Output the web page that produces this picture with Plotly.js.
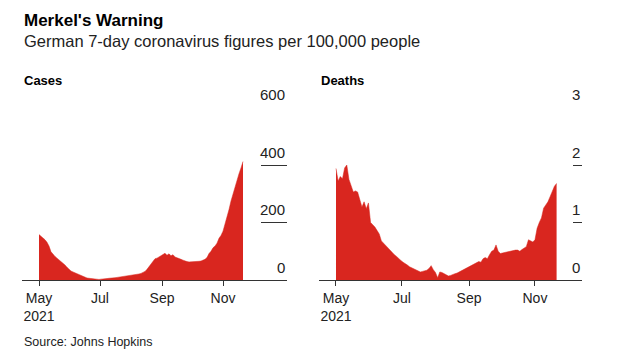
<!DOCTYPE html>
<html>
<head>
<meta charset="utf-8">
<script src="https://cdn.plot.ly/plotly-3.0.1.min.js"></script>
<style>html,body{margin:0;padding:0;background:#fff;}#chart{width:632px;height:353px;}</style>
</head>
<body>
<div id="chart"></div>
<script>
// ---- data (one value every 2 days, starting 2021-05-01) ----
const startDate = "2021-05-01";
const stepDays = 2;
const cases = [158,152,147,140,131,118,98,88,82,76,70,64,60,52,44,36,31,28,25,22,
  18,16,13,10,7,6,5,4,3,3,2,3,3,4,5,6,6,7,8,9,
  10,11,11,13,14,15,16,17,18,19,21,23,26,30,37,46,56,66,74,76,
  80,85,88,93,86,91,84,88,80,78,75,72,69,66,64,63,63,64,64,65,
  65,66,68,72,78,92,100,112,118,128,145,155,170,195,212,245,275,300,325,350,
  370,390,412];
const deaths = [1.94,1.72,1.80,1.76,1.95,2.00,1.75,1.62,1.53,1.55,1.53,1.40,1.27,1.36,1.24,1.34,1.00,0.96,0.92,0.86,
  0.80,0.68,0.64,0.60,0.55,0.52,0.48,0.44,0.41,0.37,0.34,0.31,0.29,0.26,0.23,0.21,0.19,0.17,0.16,0.14,
  0.15,0.16,0.17,0.20,0.25,0.18,0.13,0.04,0.14,0.13,0.11,0.08,0.07,0.08,0.10,0.11,0.12,0.14,0.16,0.18,
  0.20,0.22,0.24,0.26,0.27,0.30,0.32,0.31,0.37,0.39,0.37,0.44,0.50,0.52,0.61,0.50,0.46,0.47,0.48,0.49,
  0.50,0.50,0.51,0.52,0.52,0.50,0.53,0.56,0.58,0.70,0.68,0.66,0.70,0.90,1.00,1.08,1.25,1.30,1.36,1.45,
  1.56,1.63,1.68];
const xTickVals = ["2021-05-01","2021-07-01","2021-09-01","2021-11-01"];
const xTickText = ["May<br>2021","Jul","Sep","Nov"];
const casesTicks = [0,200,400,600];
const casesTickText = ["0","200","400","600"];
const deathsTicks = [0,1,2,3];
const deathsTickText = ["0","1","2","3"];

// ---- build ----
function dates(n){
  const out=[]; const t0=new Date(startDate+"T00:00:00Z").getTime();
  for(let i=0;i<n;i++){ out.push(new Date(t0+i*stepDays*86400000).toISOString().slice(0,10)); }
  return out;
}
const RED = "#d9261f";
const W=632, H=353;
const FONT = "Liberation Sans, Arial, sans-serif";

const traces = [
  {type:"scatter", mode:"lines", x:dates(cases.length), y:cases, xaxis:"x", yaxis:"y",
   fill:"tozeroy", fillcolor:RED, line:{color:RED,width:0.5}, hoverinfo:"skip"},
  {type:"scatter", mode:"lines", x:dates(deaths.length), y:deaths, xaxis:"x2", yaxis:"y2",
   fill:"tozeroy", fillcolor:RED, line:{color:RED,width:0.5}, hoverinfo:"skip"}
];

const yDom = [73/H, 245.5/H];
function xax(domain, range){
  return {domain:domain, type:"date", range:range, showgrid:false, zeroline:false,
    showline:true, linecolor:"#333", linewidth:1, layer:"below traces",
    ticks:"outside", ticklen:5, tickcolor:"#333", tickwidth:1,
    tickvals:xTickVals, ticktext:xTickText, tickfont:{family:FONT,size:14,color:"#222"},
    fixedrange:true};
}
function yax(anchor, range, vals, len){
  return {domain:yDom, anchor:anchor, side:"right", range:range, showgrid:false, zeroline:false,
    showline:false, ticks:"inside", ticklen:len, tickcolor:"#333", tickwidth:1,
    tickvals:vals, showticklabels:false, fixedrange:true};
}

const annotations = [];
function addLabels(xref, yref, vals, texts){
  vals.forEach((v,i)=>annotations.push({xref:xref+" domain", yref:yref, x:1, y:v, xanchor:"right", yanchor:"middle",
    yshift:13, text:texts[i], showarrow:false, font:{family:FONT,size:15,color:"#222"}}));
}
addLabels("x","y",casesTicks,casesTickText);
addLabels("x2","y2",deathsTicks,deathsTickText);

annotations.push(
  {xref:"paper",yref:"paper",x:22/W,y:1-20.5/H,xanchor:"left",yanchor:"middle",showarrow:false,
   text:"<b>Merkel's Warning</b>",font:{family:FONT,size:17,color:"#000"}},
  {xref:"paper",yref:"paper",x:22/W,y:1-41/H,xanchor:"left",yanchor:"middle",showarrow:false,
   text:"German 7-day coronavirus figures per 100,000 people",font:{family:FONT,size:16.5,color:"#222"}},
  {xref:"paper",yref:"paper",x:22/W,y:1-81/H,xanchor:"left",yanchor:"middle",showarrow:false,
   text:"<b>Cases</b>",font:{family:FONT,size:13,color:"#000"}},
  {xref:"paper",yref:"paper",x:319/W,y:1-81/H,xanchor:"left",yanchor:"middle",showarrow:false,
   text:"<b>Deaths</b>",font:{family:FONT,size:13,color:"#000"}},
  {xref:"paper",yref:"paper",x:22/W,y:1-342/H,xanchor:"left",yanchor:"middle",showarrow:false,
   text:"Source: Johns Hopkins",font:{family:FONT,size:12.5,color:"#222"}}
);

const layout = {
  width:W, height:H, margin:{l:0,r:0,t:0,b:0}, paper_bgcolor:"#fff", plot_bgcolor:"#fff",
  showlegend:false, font:{family:FONT},
  xaxis: xax([22/W,287/W], ["2021-04-14","2022-01-04"]),
  xaxis2: xax([319/W,582/W], ["2021-04-15 07:00","2021-12-14 12:00"]),
  yaxis: yax("x",[0,600],casesTicks,26),
  yaxis2: yax("x2",[0,3],deathsTicks,9),
  annotations: annotations
};
Plotly.newPlot("chart", traces, layout, {displayModeBar:false, staticPlot:true});
</script>
</body>
</html>
